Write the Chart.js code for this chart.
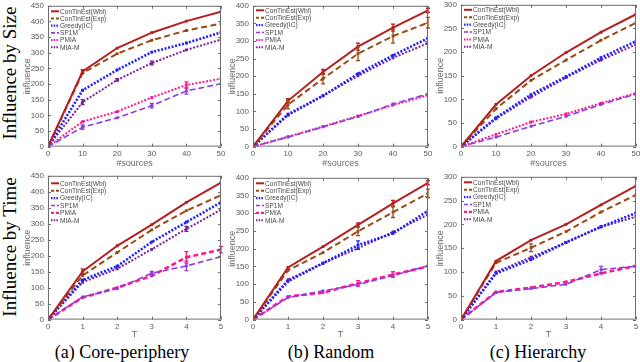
<!DOCTYPE html>
<html><head><meta charset="utf-8">
<script src="https://cdn.jsdelivr.net/npm/chart.js@4.4.0/dist/chart.umd.min.js"></script>
<style>
html,body{margin:0;padding:0;background:#fff;}
body{width:640px;height:362px;overflow:hidden;position:relative;}
canvas{position:absolute;}
.row{position:absolute;font-family:"Liberation Serif",serif;font-size:19px;color:#000;white-space:nowrap;transform:translate(-50%,-50%) rotate(-90deg);line-height:1;}
.cap{position:absolute;font-family:"Liberation Serif",serif;font-size:18px;color:#000;white-space:nowrap;transform:translate(-50%,-50%);line-height:1;}
</style></head><body>
<div class="row" style="left:9px;top:73px">Influence by Size</div>
<div class="row" style="left:9px;top:247px">Influence by Time</div>
<div class="cap" style="left:122px;top:352px">(a) Core-periphery</div>
<div class="cap" style="left:331px;top:352px">(b) Random</div>
<div class="cap" style="left:538px;top:352px">(c) Hierarchy</div>
<script>
// ---------- data ----------
const xSources = [0, 10, 20, 30, 40, 50];
const xTime = [0, 1, 2, 3, 4, 5];
const seriesLabels = ['ConTinEst(Wbl)', 'ConTinEst(Exp)', 'Greedy(IC)', 'SP1M', 'PMIA', 'MIA-M'];

// (a) Core-periphery, by size
const coreSizeWbl    = [0, 240, 315, 364, 401, 431];
const coreSizeExp    = [0, 235, 297, 340, 371, 393];
const coreSizeGreedy = [0, 180, 245, 302, 331, 365];
const coreSizeSP1M   = [0, 62, 92, 131, 178, 201];
const coreSizePMIA   = [0, 80, 112, 157, 197, 217];
const coreSizeMIAM   = [0, 142, 213, 267, 309, 342];
// (b) Random, by size
const randSizeWbl    = [0, 130, 212, 284, 338, 387];
const randSizeExp    = [0, 119, 193, 264, 314, 352];
const randSizeGreedy = [0, 92, 144, 207, 259, 308];
const randSizeSP1M   = [0, 27, 56, 85, 121, 150];
const randSizePMIA   = [0, 28, 57, 87, 118, 146];
const randSizeMIAM   = [0, 89, 145, 201, 252, 294];
// (c) Hierarchy, by size
const hierSizeWbl    = [0, 89, 150, 199, 242, 280];
const hierSizeExp    = [0, 80, 140, 183, 225, 262];
const hierSizeGreedy = [0, 61, 110, 148, 188, 223];
const hierSizeSP1M   = [0, 20, 43, 64, 89, 111];
const hierSizePMIA   = [0, 26, 52, 69, 92, 113];
const hierSizeMIAM   = [0, 59, 105, 146, 183, 216];
// (a) Core-periphery, by time
const coreTimeWbl    = [0, 151, 231, 297, 367, 429];
const coreTimeExp    = [0, 138, 210, 281, 341, 389];
const coreTimeGreedy = [0, 124, 167, 243, 305, 367];
const coreTimeSP1M   = [0, 71, 97, 145, 168, 197];
const coreTimePMIA   = [0, 69, 100, 137, 195, 219];
const coreTimeMIAM   = [0, 117, 159, 220, 284, 344];
// (b) Random, by time
const randTimeWbl    = [0, 147, 206, 267, 328, 386];
const randTimeExp    = [0, 139, 189, 249, 303, 356];
const randTimeGreedy = [0, 108, 159, 210, 243, 307];
const randTimeSP1M   = [0, 62, 81, 99, 124, 152];
const randTimePMIA   = [0, 65, 76, 102, 127, 150];
const randTimeMIAM   = [0, 113, 159, 201, 247, 296];
// (c) Hierarchy, by time
const hierTimeWbl    = [0, 123, 167, 200, 241, 281];
const hierTimeExp    = [0, 119, 151, 185, 226, 262];
const hierTimeGreedy = [0, 97, 126, 162, 195, 224];
const hierTimeSP1M   = [0, 57, 65, 74, 105, 112];
const hierTimePMIA   = [0, 58, 67, 79, 97, 113];
const hierTimeMIAM   = [0, 100, 131, 162, 195, 216];

// error bar half-widths (only where visible)
const coreSizeErrWbl  = [0, 6, 0, 0, 0, 0];
const coreSizeErrSP1M = [0, 7, 0, 7, 10, 0];
const coreSizeErrPMIA = [0, 0, 0, 0, 10, 0];
const coreSizeErrMIAM = [0, 8, 4, 6, 0, 0];
const randSizeErrWbl  = [0, 6, 7, 10, 10, 6];
const randSizeErrExp  = [0, 12, 15, 20, 20, 15];
const coreTimeErrWbl  = [0, 8, 0, 0, 0, 0];
const coreTimeErrSP1M = [0, 0, 0, 6, 15, 0];
const coreTimeErrPMIA = [0, 0, 0, 0, 18, 10];
const coreTimeErrMIAM = [0, 0, 0, 0, 8, 0];
const randTimeErrWbl  = [0, 0, 0, 6, 8, 6];
const randTimeErrExp  = [0, 0, 0, 12, 15, 12];
const randTimeErrGreedy = [0, 0, 0, 12, 0, 0];
const randTimeErrPMIA = [0, 0, 0, 8, 8, 0];
const hierTimeErrExp  = [0, 0, 8, 0, 0, 0];
const hierTimeErrSP1M = [0, 0, 0, 0, 7, 0];

// ---------- styles ----------
const colors = ['#b41f1f', '#9c4a14', '#1f22ff', '#8c3be6', '#ff1a8c', '#7a2199'];
const DOT = [2, 1.6], DASH = [6, 3.5];

function makeDatasets(xs, vals, errs, timeRow) {
  const widths = [2, 2, 2.6, 1.6, timeRow ? 2.6 : 2, 2];
  const dashes = [[], DASH, DOT, [6, 3], timeRow ? [5, 3] : DOT, DOT];
  const legendDashes = [[], [3, 2], [1.5, 1.2], [4, 2], timeRow ? [3, 2] : [1.5, 1.2], [1.5, 1.2]];
  return vals.map((v, k) => ({
    label: seriesLabels[k],
    data: xs.map((x, i) => ({ x: x, y: v[i] })),
    borderColor: colors[k],
    backgroundColor: colors[k],
    borderWidth: widths[k],
    borderDash: dashes[k],
    legendDash: legendDashes[k],
    pointStyle: 'rect',
    pointRadius: 2,
    pointBorderWidth: 0,
    tension: 0,
    fill: false,
    errorBars: errs[k] || null
  }));
}

// ---------- plugins ----------
const errorPlugin = {
  id: 'errbars',
  afterDatasetsDraw(chart) {
    const { ctx, scales: { x: xs, y: ys } } = chart;
    chart.data.datasets.forEach(ds => {
      if (!ds.errorBars) return;
      ctx.save();
      ctx.strokeStyle = ds.borderColor; ctx.lineWidth = 1.3; ctx.setLineDash([]);
      ds.errorBars.forEach((e, i) => {
        if (!e) return;
        const p = ds.data[i];
        const px = xs.getPixelForValue(p.x);
        const y1 = ys.getPixelForValue(p.y - e), y2 = ys.getPixelForValue(p.y + e);
        ctx.beginPath();
        ctx.moveTo(px, y1); ctx.lineTo(px, y2);
        ctx.moveTo(px - 2, y1); ctx.lineTo(px + 2, y1);
        ctx.moveTo(px - 2, y2); ctx.lineTo(px + 2, y2);
        ctx.stroke();
      });
      ctx.restore();
    });
  }
};

const boxPlugin = {
  id: 'mbox',
  afterDraw(chart, args, opts) {
    const { ctx, chartArea: a, scales: { x: xs, y: ys } } = chart;
    ctx.save();
    // legend
    ctx.font = '6.6px "Liberation Sans", Arial, sans-serif';
    ctx.textBaseline = 'middle';
    chart.data.datasets.forEach((ds, i) => {
      const y = a.top + opts.legendTop + i * opts.legendStep;
      ctx.strokeStyle = ds.borderColor; ctx.lineWidth = Math.min(ds.borderWidth, 2.2);
      ctx.setLineDash(ds.legendDash);
      ctx.beginPath(); ctx.moveTo(a.left + 3, y); ctx.lineTo(a.left + 11, y); ctx.stroke();
      ctx.fillStyle = '#4a4a4a';
      ctx.fillText(ds.label, a.left + 12, y + 0.5);
    });
    ctx.setLineDash([]);
    // box
    ctx.strokeStyle = '#6e6e6e'; ctx.lineWidth = 1;
    ctx.strokeRect(a.left + 0.5, a.top + 0.5, a.right - a.left - 1, a.bottom - a.top - 1);
    // inward ticks on all sides
    ctx.beginPath();
    xs.ticks.forEach(t => {
      const px = Math.round(xs.getPixelForValue(t.value)) + 0.5;
      ctx.moveTo(px, a.bottom); ctx.lineTo(px, a.bottom - 3);
      ctx.moveTo(px, a.top); ctx.lineTo(px, a.top + 3);
    });
    ys.ticks.forEach(t => {
      const py = Math.round(ys.getPixelForValue(t.value)) + 0.5;
      ctx.moveTo(a.left, py); ctx.lineTo(a.left + 3, py);
      ctx.moveTo(a.right, py); ctx.lineTo(a.right - 3, py);
    });
    ctx.stroke();
    ctx.restore();
  }
};

// ---------- panels ----------
const panels = [
  { l: 48, t: 3, r: 221, b: 146, xs: xSources, xmax: 50, xstep: 10, ymax: 450, xtitle: '#sources', xoff: 15, time: false, lt: 5.5, ls: 7.2,
    vals: [coreSizeWbl, coreSizeExp, coreSizeGreedy, coreSizeSP1M, coreSizePMIA, coreSizeMIAM],
    errs: [coreSizeErrWbl, null, null, coreSizeErrSP1M, coreSizeErrPMIA, coreSizeErrMIAM] },
  { l: 253, t: 3, r: 428, b: 146, xs: xSources, xmax: 50, xstep: 10, ymax: 400, xtitle: '#sources', xoff: 15, time: false, lt: 4.5, ls: 7.4,
    vals: [randSizeWbl, randSizeExp, randSizeGreedy, randSizeSP1M, randSizePMIA, randSizeMIAM],
    errs: [randSizeErrWbl, randSizeErrExp, null, null, null, null] },
  { l: 461, t: 2, r: 636, b: 146, xs: xSources, xmax: 50, xstep: 10, ymax: 300, xtitle: '#sources', xoff: 15, time: false, lt: 5, ls: 7.4,
    vals: [hierSizeWbl, hierSizeExp, hierSizeGreedy, hierSizeSP1M, hierSizePMIA, hierSizeMIAM],
    errs: [null, null, null, null, null, null] },
  { l: 48, t: 173, r: 221, b: 319, xs: xTime, xmax: 5, xstep: 1, ymax: 450, xtitle: 'T', xoff: 13, time: true, lt: 7.5, ls: 7.4,
    vals: [coreTimeWbl, coreTimeExp, coreTimeGreedy, coreTimeSP1M, coreTimePMIA, coreTimeMIAM],
    errs: [coreTimeErrWbl, null, null, coreTimeErrSP1M, coreTimeErrPMIA, coreTimeErrMIAM] },
  { l: 253, t: 175, r: 428, b: 319, xs: xTime, xmax: 5, xstep: 1, ymax: 400, xtitle: 'T', xoff: 13, time: true, lt: 5.5, ls: 7.4,
    vals: [randTimeWbl, randTimeExp, randTimeGreedy, randTimeSP1M, randTimePMIA, randTimeMIAM],
    errs: [randTimeErrWbl, randTimeErrExp, randTimeErrGreedy, null, randTimeErrPMIA, null] },
  { l: 461, t: 174, r: 636, b: 319, xs: xTime, xmax: 5, xstep: 1, ymax: 300, xtitle: 'T', xoff: 13, time: true, lt: 5.5, ls: 7.4,
    vals: [hierTimeWbl, hierTimeExp, hierTimeGreedy, hierTimeSP1M, hierTimePMIA, hierTimeMIAM],
    errs: [null, hierTimeErrExp, null, hierTimeErrSP1M, null, null] }
];

const YW = 26, PT = 6, PR = 8;
const tickFont = { family: '"Liberation Sans", Arial, sans-serif', size: 8 };
const titleFont = { family: '"Liberation Sans", Arial, sans-serif', size: 9 };

panels.forEach(p => {
  const xh = p.xoff + 5.4;
  const cv = document.createElement('canvas');
  const w = YW + (p.r - p.l) + PR, h = PT + (p.b - p.t) + Math.ceil(xh) + 2;
  cv.width = w; cv.height = h;
  cv.style.width = w + 'px'; cv.style.height = h + 'px';
  cv.style.left = (p.l - YW) + 'px'; cv.style.top = (p.t - PT) + 'px';
  document.body.appendChild(cv);
  new Chart(cv, {
    type: 'line',
    data: { datasets: makeDatasets(p.xs, p.vals, p.errs, p.time) },
    plugins: [errorPlugin, boxPlugin],
    options: {
      responsive: false, animation: false, devicePixelRatio: 1,
      layout: { padding: { top: PT, right: PR, left: 0, bottom: 0 } },
      plugins: { legend: { display: false }, tooltip: { enabled: false },
                 mbox: { legendTop: p.lt, legendStep: p.ls } },
      scales: {
        x: {
          type: 'linear', min: 0, max: p.xmax,
          ticks: { stepSize: p.xstep, color: '#5a5a5a', font: tickFont, padding: 2, maxRotation: 0, autoSkip: false },
          grid: { display: false, drawTicks: false }, border: { display: false },
          title: { display: true, text: p.xtitle, color: '#6a6a6a', font: titleFont, padding: 0 },
          afterFit: s => { s.height = xh + 2; }
        },
        y: {
          min: 0, max: p.ymax,
          ticks: { stepSize: 50, color: '#5a5a5a', font: tickFont, padding: 4, autoSkip: false },
          grid: { display: false, drawTicks: false }, border: { display: false },
          title: { display: true, text: 'influence', color: '#6a6a6a', font: titleFont, padding: 0 },
          afterFit: s => { s.width = YW; }
        }
      }
    }
  });
});
</script>
</body></html>
